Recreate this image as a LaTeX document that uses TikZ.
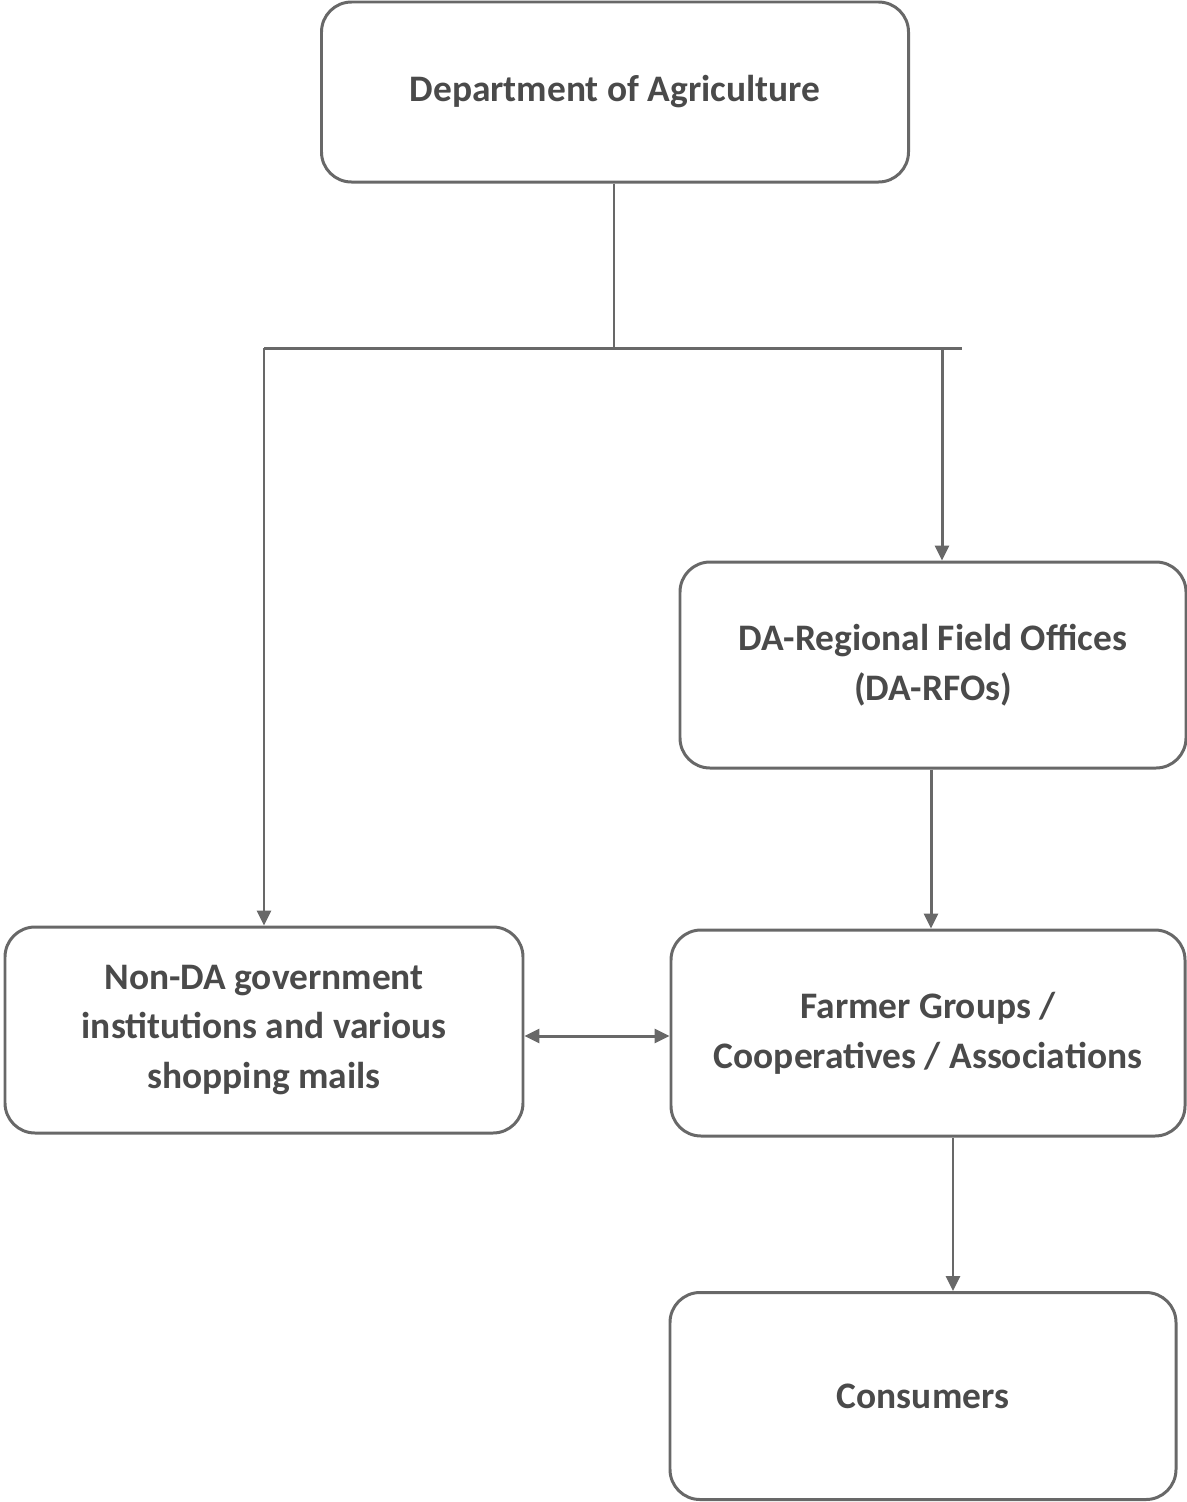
\documentclass[tikz,border=0pt]{standalone}
\usepackage{fontspec}
\setmainfont{Carlito}
\usetikzlibrary{arrows.meta}
\definecolor{linegray}{HTML}{686868}
\definecolor{textgray}{HTML}{4A4A4A}
\tikzset{
  box/.style={draw=linegray, line width=1.7pt, rounded corners=0.6cm, align=center,
    text=textgray, font=\fontsize{21.3}{28.4}\selectfont\bfseries, inner sep=0pt},
  link/.style={draw=linegray, line width=1.7pt},
  arr/.style={link, -{Triangle[length=0.3cm, width=0.28cm]}},
  darr/.style={link, {Triangle[length=0.3cm, width=0.28cm]}-{Triangle[length=0.3cm, width=0.28cm]}}
}
\begin{document}
\begin{tikzpicture}[x=0.02cm, y=-0.02cm]
\useasboundingbox (0,0) rectangle (1187,1502);

%boxes
	\foreach \xy/\w/\h/\name/\txt in {
		{(615,92)/587/180/doa/{Department of Agriculture}},
		{(933,665)/506/206/rfo/{DA-Regional Field Offices\\(DA-RFOs)}},
		{(264,1030)/518/206/nonda/{Non-DA government\\institutions and various\\shopping mails}},
		{(928,1033)/514/206/farmer/{Farmer Groups /\\Cooperatives / Associations}},
		{(923,1396)/506/207/cons/{Consumers}}} {
		\node[box, minimum width=\w*0.02cm, minimum height=\h*0.02cm] (\name) at \xy {\txt};
	}

%branch
	\coordinate (hub) at (614,348);
	\coordinate (lt) at (264,348);
	\coordinate (rt) at (962,348);
	\coordinate (rdrop) at (942,348);

	\draw[link] (doa.south -| hub) -- (hub);
	\draw[link] (lt) -- (rt);
	\draw[arr] (lt) -- (lt |- nonda.north);
	\draw[arr] (rdrop) -- (rdrop |- rfo.north);

%middle
	\draw[arr] ([xshift=-0.04cm]rfo.south) -- ([xshift=-0.04cm]rfo.south |- farmer.north);
	\draw[darr] ([yshift=-0.12cm]nonda.east) -- ([yshift=-0.12cm]nonda.east -| farmer.west);
	\draw[arr] ([xshift=0.5cm]farmer.south) -- ([xshift=0.5cm]farmer.south |- cons.north);

\end{tikzpicture}
\end{document}
